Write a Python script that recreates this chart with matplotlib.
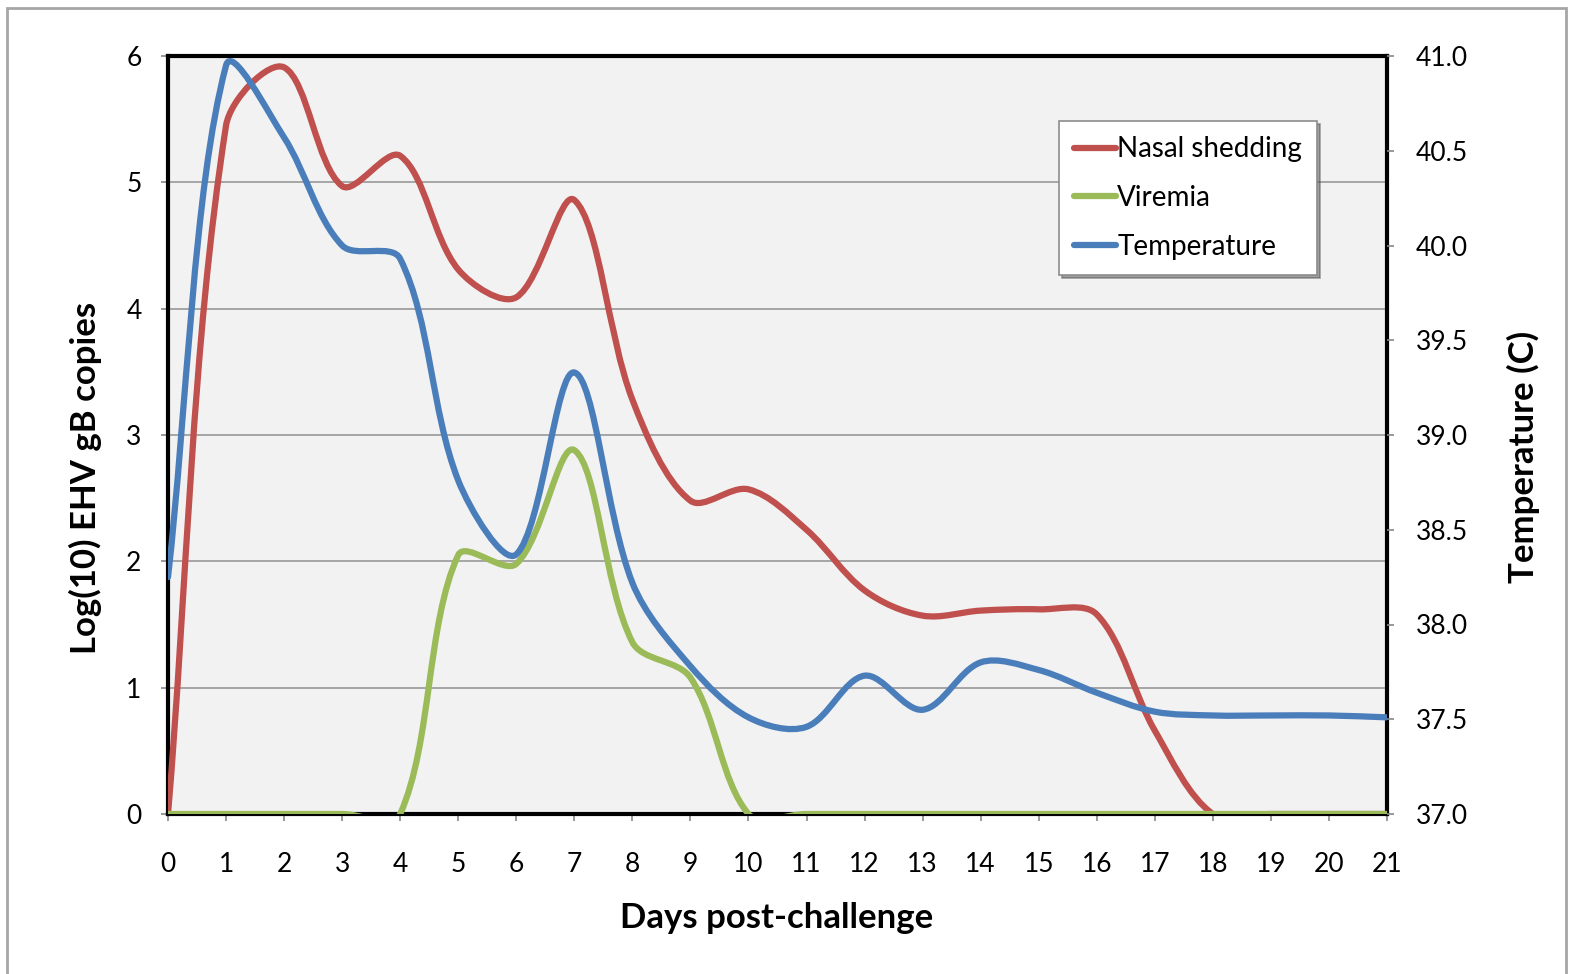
import numpy as np
import matplotlib.pyplot as plt
from matplotlib.path import Path
from matplotlib.patches import PathPatch, Rectangle
from matplotlib.lines import Line2D
from matplotlib.ticker import FormatStrFormatter

plt.rcParams['font.family'] = ['Lato', 'DejaVu Sans']

# Data (integer days post-challenge)
days = list(range(22))
nasal_shedding = [0.0, 5.45, 5.91, 4.97, 5.21, 4.31, 4.09, 4.86, 3.28, 2.48, 2.57,
                  2.25, 1.77, 1.57, 1.61, 1.62, 1.58, 0.66, 0.0, 0.0, 0.0, 0.0]
viremia = [0.0, 0.0, 0.0, 0.0, 0.0, 2.05, 1.98, 2.88, 1.36, 1.08, 0.0,
           0.0, 0.0, 0.0, 0.0, 0.0, 0.0, 0.0, 0.0, 0.0, 0.0, 0.0]
temperature = [38.25, 40.95, 40.57, 40.0, 39.93, 38.76, 38.37, 39.33, 38.22, 37.78, 37.51,
               37.46, 37.73, 37.55, 37.80, 37.76, 37.64, 37.54, 37.52, 37.52, 37.52, 37.51]

RED = '#c0504d'
GREEN = '#9bbb59'
BLUE = '#4a7ebb'


def smooth_path(axis, x, y):
    # Excel-like smoothed line: Bezier segments, tangents weighted by
    # segment lengths on screen
    pts = axis.transData.transform(np.column_stack([x, y]).astype(float))
    n = len(pts)
    seg = np.hypot(*np.diff(pts, axis=0).T)
    verts = [pts[0]]
    codes = [Path.MOVETO]
    for i in range(n - 1):
        a = pts[max(i - 1, 0)]
        d_prev = seg[i - 1] if i > 0 else 0.0
        c1 = pts[i] + (pts[i + 1] - a) * seg[i] / (d_prev + seg[i]) / 3.0
        b = pts[min(i + 2, n - 1)]
        d_next = seg[i + 1] if i + 1 < n - 1 else 0.0
        c2 = pts[i + 1] - (b - pts[i]) * seg[i] / (seg[i] + d_next) / 3.0
        verts += [c1, c2, pts[i + 1]]
        codes += [Path.CURVE4] * 3
    verts = axis.transData.inverted().transform(np.array(verts))
    return Path(verts, codes)


fig = plt.figure(figsize=(15.74, 9.74), dpi=100)
ax = fig.add_axes([168 / 1574, 1 - 814 / 974, (1387 - 168) / 1574, (814 - 56) / 974])
ax2 = ax.twinx()

ax.set_facecolor('#f2f2f2')
ax2.patch.set_visible(False)

ax.set_xlim(0, 21)
ax.set_ylim(0, 6)
ax2.set_ylim(37, 41)

ax.grid(axis='y', color='#a0a0a0', lw=1.3)
ax.set_axisbelow(True)

LW = 4.5
ax.add_patch(PathPatch(smooth_path(ax, days, nasal_shedding), fill=False, ec=RED,
                       lw=LW, zorder=3, capstyle='round', joinstyle='round'))
ax.add_patch(PathPatch(smooth_path(ax, days, viremia), fill=False, ec=GREEN,
                       lw=LW, zorder=3.1, capstyle='round', joinstyle='round'))
ax2.add_patch(PathPatch(smooth_path(ax2, days, temperature), fill=False, ec=BLUE,
                        lw=LW, zorder=3, capstyle='round', joinstyle='round'))

ax.set_xticks(days)
ax.set_yticks(range(7))
ax2.set_yticks(np.arange(37, 41.01, 0.5))
ax2.yaxis.set_major_formatter(FormatStrFormatter('%.1f'))

for s in ax.spines.values():
    s.set_linewidth(3)
    s.set_color('black')
for s in ax2.spines.values():
    s.set_visible(False)

ax.tick_params(axis='x', direction='out', length=5, width=1.2, color='#888888',
               labelsize=19, pad=22)
ax.tick_params(axis='y', direction='out', length=5, width=1.2, color='#888888',
               labelsize=19, pad=14)
ax2.tick_params(axis='y', direction='out', length=5, width=1.2, color='#888888',
                labelsize=19, pad=16)

fig.text(85 / 1574, 1 - 478 / 974, 'Log(10) EHV gB copies', rotation=90,
         ha='center', va='center', fontsize=25, fontweight='bold')
fig.text(1523 / 1574, 1 - 457 / 974, 'Temperature (C)', rotation=90,
         ha='center', va='center', fontsize=25, fontweight='bold')
fig.text(777 / 1574, 1 - 918 / 974, 'Days post-challenge',
         ha='center', va='center', fontsize=25, fontweight='bold')

handles = [Line2D([], [], color=RED, lw=LW, solid_capstyle='round'),
           Line2D([], [], color=GREEN, lw=LW, solid_capstyle='round'),
           Line2D([], [], color=BLUE, lw=LW, solid_capstyle='round')]
leg = ax2.legend(handles, ['Nasal shedding', 'Viremia', 'Temperature'],
                 loc='upper left', bbox_to_anchor=((1059 - 168) / 1219, (814 - 121) / 758),
                 borderaxespad=0, fontsize=20, handlelength=1.5, handletextpad=0.05,
                 labelspacing=0.82, borderpad=0.55, fancybox=False, shadow=True,
                 framealpha=1, edgecolor='#8c8c8c')
leg.get_frame().set_linewidth(1.2)

fig.add_artist(Rectangle((7 / 1574, -0.02), (1566 - 7) / 1574, 1.02 - 8 / 974,
                         transform=fig.transFigure, fill=False, ec='#a6a6a6', lw=2))

fig.savefig('out.png', dpi=100)
